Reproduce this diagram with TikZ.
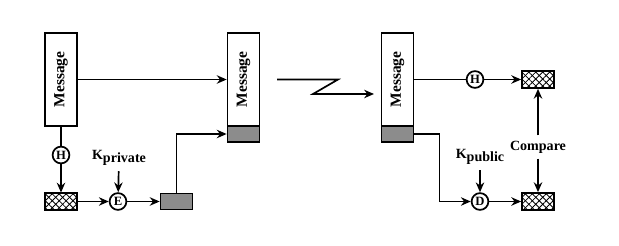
\documentclass[tikz,border=0pt]{standalone}
\usepackage{fontspec}
\setmainfont{Liberation Serif}
\usepackage{tikz}
\usetikzlibrary{arrows.meta,positioning,patterns.meta}
\definecolor{siggray}{RGB}{140,140,140}

\begin{document}
\begin{tikzpicture}[
  line width=1.2pt, >={Stealth[length=7pt,width=6pt]},
  msgbox/.style={draw, minimum width=0.8cm, minimum height=2.325cm, inner sep=0pt,
                 label={[rotate=90, font=\fontsize{11}{13}\selectfont\bfseries]center:Message}},
  sigbox/.style={draw, fill=siggray, minimum width=0.8cm, minimum height=0.4cm, inner sep=0pt},
  hashbox/.style={draw, minimum width=0.8cm, minimum height=0.425cm, inner sep=0pt,
                  preaction={pattern={Lines[angle=45, distance=3.5pt, line width=0.6pt]}},
                  pattern={Lines[angle=-45, distance=3.5pt, line width=0.6pt]}},
  op/.style={draw, circle, minimum size=0.42cm, inner sep=0pt, font=\small\bfseries},
  keylabel/.style={font=\bfseries}
]
\useasboundingbox (0,0) rectangle (15.475,6.15);
% Sender
\node[msgbox]  (msgA)  at (1.525, 4.1625) {};
\node[op]      (hA)    at (1.525, 2.275)  {H};
\node[hashbox] (hashA) at (1.525, 1.1125) {};
\node[op]      (encE)  at (2.95, 1.1125)  {E};
\node[keylabel] (kpriv) at (2.975, 2.2) {K\raisebox{-0.5ex}{private}};
\node[sigbox]  (sigA)  at (4.4125, 1.1125) {};
\draw (msgA.south) -- (hA);
\draw[->] (hA) -- (hashA);
\draw[->] (hashA) -- (encE);
\draw[->] (kpriv) -- (encE);
\draw[->] (encE) -- (sigA);
% Signed message
\node[msgbox] (msgB) at (6.0875, 4.1625) {};
\node[sigbox] (sigB) at (6.0875, 2.8) {};
\draw[->] (msgA.east) -- (msgB.west);
\draw[->] (sigA.north) |- (sigB.west);
% Channel
\coordinate (zzstart) at (6.925, 4.1625);
\coordinate (zzend)   at (9.35, 3.8);
\draw[->] (zzstart) -- (8.45, 4.1625) -- (7.825, 3.8) -- (zzend);
% Receiver
\node[msgbox]  (msgC)  at (9.9375, 4.1625) {};
\node[sigbox]  (sigC)  at (9.9375, 2.8) {};
\node[op]      (hC)    at (11.875, 4.1625) {H};
\node[hashbox] (hashC) at (13.45, 4.1625) {};
\node[op]      (decD)  at (12.0, 1.1125) {D};
\node[hashbox] (hashD) at (13.45, 1.1125) {};
\node[keylabel] (kpub) at (12.0, 2.225) {K\raisebox{-0.5ex}{public}};
\node[keylabel] (cmp)  at (13.45, 2.475) {Compare};
\draw (msgC.east) -- (hC);
\draw[->] (hC) -- (hashC);
\draw[->] (sigC.east) -- ++(0.625,0) |- (decD);
\draw[->] (kpub) -- (decD);
\draw[->] (decD) -- (hashD);
\draw[->] (cmp) -- (hashC);
\draw[->] (cmp) -- (hashD);
\end{tikzpicture}
\end{document}
